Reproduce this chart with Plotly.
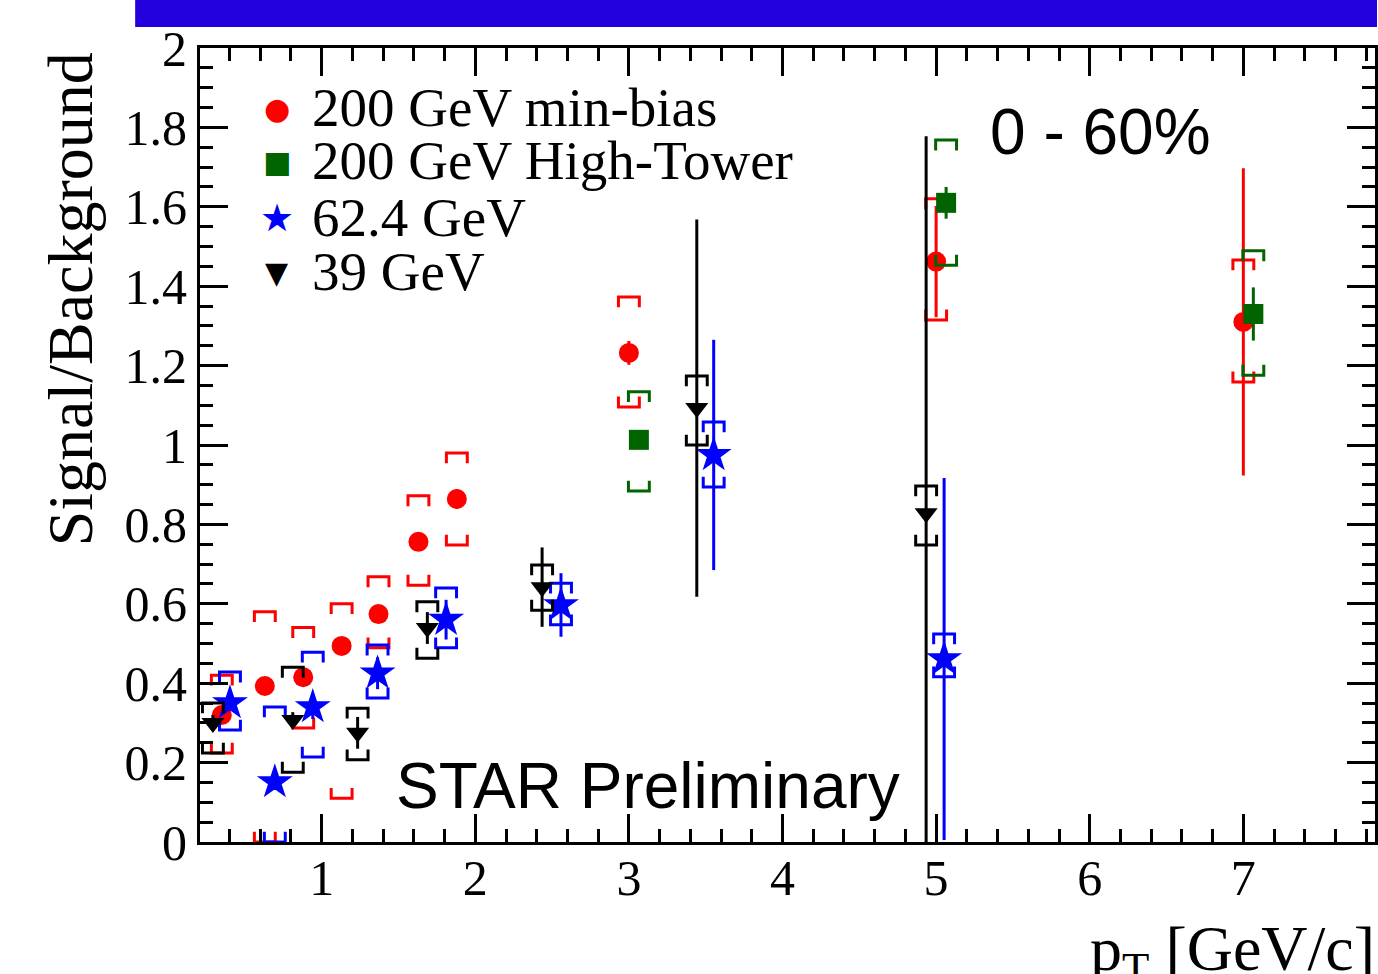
import plotly.graph_objects as go

# ---------------- data ----------------
red_x = [0.35, 0.63, 0.88, 1.13, 1.37, 1.63, 1.88, 3.0, 5.0, 7.0]
red_y = [0.32, 0.393, 0.415, 0.494, 0.574, 0.756, 0.864, 1.232, 1.462, 1.31]
red_stat = [0.02, 0.02, 0.02, 0.02, 0.02, 0.02, 0.025, 0.03, 0.14, 0.387]
red_sys_up = [0.42, 0.58, 0.54, 0.60, 0.668, 0.872, 0.98, 1.373, 1.62, 1.466]
red_sys_dn = [0.224, 0.0, 0.287, 0.11, 0.489, 0.647, 0.748, 1.096, 1.315, 1.159]

green_x = [3.065, 5.065, 7.065]
green_y = [1.013, 1.61, 1.33]
green_stat = [0.02, 0.04, 0.067]
green_sys_up = [1.134, 1.768, 1.489]
green_sys_dn = [0.884, 1.453, 1.176]

blue_x = [0.403, 0.695, 0.942, 1.364, 1.81, 2.558, 3.552, 5.052]
blue_y = [0.35, 0.151, 0.34, 0.425, 0.56, 0.597, 0.975, 0.461]
blue_stat = [0.02, 0.02, 0.03, 0.04, 0.05, 0.08, 0.29, 0.456]
blue_sys_up = [0.428, 0.34, 0.478, 0.496, 0.64, 0.652, 1.058, 0.524]
blue_sys_dn = [0.282, 0.0, 0.214, 0.363, 0.489, 0.547, 0.894, 0.416]

black_x = [0.292, 0.812, 1.234, 1.688, 2.435, 3.442, 4.935]
black_y = [0.30, 0.307, 0.275, 0.539, 0.642, 1.093, 0.828]
black_stat = [0.02, 0.02, 0.04, 0.04, 0.10, 0.475, 0.95]
black_sys_up = [0.35, 0.44, 0.337, 0.605, 0.698, 1.174, 0.897]
black_sys_dn = [0.224, 0.176, 0.207, 0.463, 0.584, 1.0, 0.748]

series_names = ["200 GeV min-bias", "200 GeV High-Tower", "62.4 GeV", "39 GeV"]
y_ticks = [0, 0.2, 0.4, 0.6, 0.8, 1, 1.2, 1.4, 1.6, 1.8, 2]
x_ticks = [1, 2, 3, 4, 5, 6, 7]

# ---------------- styling ----------------
W, H = 1378, 974
ML, MR, MT, MB = 200, 0, 48, 132
PW, PH = W - ML - MR, H - MT - MB
SERIF = "Liberation Serif, Times New Roman, serif"
SANS = "Liberation Sans, Arial, sans-serif"
BR_W = 0.068   # half width of systematic bracket (x units)
BR_L = 0.026   # leg length of bracket (y units)


def px_x(p):
    return (p - ML) / PW


def px_y(p):
    return (H - MB - p) / PH


def brackets(xs, ups, dns):
    bx, by = [], []
    for x, u, d in zip(xs, ups, dns):
        bx += [x - BR_W, x - BR_W, x + BR_W, x + BR_W, None]
        by += [u - BR_L, u, u, u - BR_L, None]
        bx += [x - BR_W, x - BR_W, x + BR_W, x + BR_W, None]
        by += [d + BR_L, d, d, d + BR_L, None]
    return bx, by


fig = go.Figure()

series = [
    (red_x, red_y, red_stat, red_sys_up, red_sys_dn, "#FF0000", "circle", 20),
    (green_x, green_y, green_stat, green_sys_up, green_sys_dn, "#006400", "square", 20),
    (blue_x, blue_y, blue_stat, blue_sys_up, blue_sys_dn, "#0000FF", "star", 27),
    (black_x, black_y, black_stat, black_sys_up, black_sys_dn, "#000000", "triangle-down", 20),
]

for (xs, ys, st, up, dn, col, sym, size), name in zip(series, series_names):
    bx, by = brackets(xs, up, dn)
    fig.add_trace(go.Scatter(x=bx, y=by, mode="lines",
                             line=dict(color=col, width=3),
                             hoverinfo="skip", showlegend=False))
    fig.add_trace(go.Scatter(x=xs, y=ys, mode="markers", name=name,
                             marker=dict(symbol=sym, size=size, color=col,
                                         line=dict(width=0)),
                             error_y=dict(type="data", array=st, width=0,
                                          thickness=3, color=col),
                             showlegend=False))

axis_common = dict(
    showline=True, linewidth=3, linecolor="black", mirror="ticks",
    ticks="inside", ticklen=28, tickwidth=3, tickcolor="black",
    showgrid=False, zeroline=False,
    tickfont=dict(family=SERIF, size=50, color="black"),
)

fig.update_xaxes(range=[0.208, 7.857], tickmode="array", tickvals=x_ticks,
                 ticktext=[str(v) for v in x_ticks], ticklabelstandoff=-10,
                 minor=dict(ticks="inside", ticklen=13, tickwidth=3,
                            tickcolor="black", dtick=0.2, tick0=0, showgrid=False),
                 **axis_common)
fig.update_yaxes(range=[0, 2], tickmode="array", tickvals=y_ticks,
                 ticktext=[f"{v:g}" for v in y_ticks],
                 minor=dict(ticks="inside", ticklen=13, tickwidth=3,
                            tickcolor="black", dtick=0.05, tick0=0, showgrid=False),
                 **axis_common)

annotations = []
# legend (text rows with marker glyphs)
leg_rows = [108, 161, 218, 272]
leg_glyphs = [("●", "#FF0000", 30), ("■", "#006400", 30), ("★", "#0000FF", 38), ("▼", "#000000", 30)]
for (g, c, s), name, ry in zip(leg_glyphs, series_names, leg_rows):
    annotations.append(dict(x=px_x(277), y=px_y(ry), xref="paper", yref="paper",
                            text=g, showarrow=False, xanchor="center", yanchor="middle",
                            font=dict(family="DejaVu Sans", size=s, color=c)))
    annotations.append(dict(x=px_x(310), y=px_y(ry - 1), xref="paper", yref="paper",
                            text=name, showarrow=False, xanchor="left", yanchor="middle",
                            font=dict(family=SERIF, size=55, color="black")))

annotations.append(dict(x=px_x(990), y=px_y(132), xref="paper", yref="paper",
                        text="0 - 60%", showarrow=False, xanchor="left", yanchor="middle",
                        font=dict(family=SANS, size=64, color="black")))
annotations.append(dict(x=px_x(394), y=px_y(786), xref="paper", yref="paper",
                        text="STAR Preliminary", showarrow=False, xanchor="left",
                        yanchor="middle",
                        font=dict(family=SANS, size=64, color="black")))
annotations.append(dict(x=px_x(70), y=px_y(299), xref="paper", yref="paper",
                        text="Signal/Background", showarrow=False, textangle=-90,
                        xanchor="center", yanchor="middle",
                        font=dict(family=SERIF, size=64, color="black")))
annotations.append(dict(x=px_x(1380), y=px_y(953), xref="paper", yref="paper",
                        text="p<sub>T</sub> [GeV/c]", showarrow=False,
                        xanchor="right", yanchor="middle",
                        font=dict(family=SERIF, size=64, color="black")))

fig.update_layout(
    width=W, height=H,
    margin=dict(l=ML, r=MR, t=MT, b=MB, pad=0),
    plot_bgcolor="white", paper_bgcolor="white",
    showlegend=False,
    annotations=annotations,
    shapes=[dict(type="rect", xref="paper", yref="paper",
                 x0=px_x(135), x1=px_x(1380), y0=px_y(27), y1=px_y(-2),
                 fillcolor="#2200DD", line=dict(width=0), layer="above")],
)

fig.write_html("out.html")
